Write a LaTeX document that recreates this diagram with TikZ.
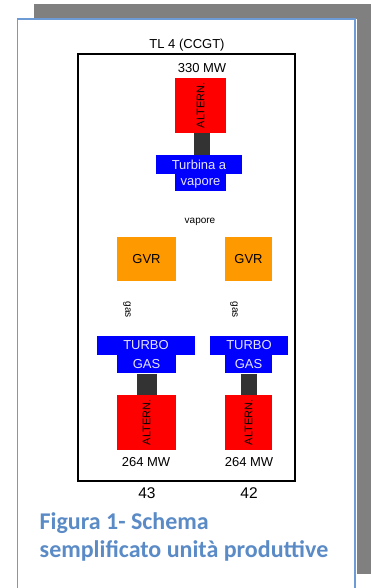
\documentclass[tikz,border=0pt]{standalone}
\usepackage{fontspec}
\usepackage{graphicx}
\setmainfont{Liberation Sans}
\newfontfamily\captionfont{Carlito}
\usetikzlibrary{positioning}
\definecolor{Frame}{HTML}{6C9BD6}
\definecolor{Shadow}{HTML}{808080}
\definecolor{Caption}{HTML}{5B8BC6}
\definecolor{TurbBlue}{HTML}{0000FF}
\definecolor{AltRed}{HTML}{FF0000}
\definecolor{GvrOrange}{HTML}{FF9900}
\definecolor{Shaft}{HTML}{333333}
\definecolor{TurbText}{HTML}{E4E4FF}

\begin{document}
\begin{tikzpicture}[x=1pt,y=-1pt,
    lbl/.style={font=\fontsize{13}{15}\selectfont,inner sep=0pt},
    small/.style={font=\fontsize{10}{12}\selectfont,inner sep=0pt},
    altern/.style={fill=AltRed,inner sep=0pt,minimum height=55pt,font=\fontsize{11}{12}\selectfont},
    gvr/.style={fill=GvrOrange,inner sep=0pt,minimum height=44pt,font=\fontsize{13}{15}\selectfont},
    turb/.style={fill=TurbBlue,text=TurbText,inner sep=0pt,font=\fontsize{13}{15}\selectfont},
    shaftline/.style={draw=Shaft,line width=16pt}
]
\useasboundingbox (0,0) rectangle (371,588);
% page with shadow
\fill[Shadow] (34,4) rectangle (371,574);
\fill[white] (17.5,19) rectangle (356.5,600);
\draw[Frame,line width=1.5pt] (17.5,19) rectangle (355,600);
% plant frame
\node[lbl] (title) at (187,45) {TL 4 (CCGT)};
\draw[line width=2pt] (78,54) rectangle (295,481);
% steam group
\node[lbl] (mwv) at (202,68) {330 MW};
\node[altern,minimum width=51pt] (altv) at (200.5,105.5) {\rotatebox{90}{ALTERN.}};
\node[turb,minimum width=86pt,minimum height=19pt] (tvtop) at (199,164.5) {Turbina a};
\node[turb,minimum width=51pt,minimum height=17pt,below=0pt of tvtop.south,xshift=1.5pt] (tvbot) {vapore};
\draw[shaftline] ([xshift=1.5pt]altv.south) -- ([xshift=1.5pt]altv.south |- tvtop.north);
\node[small] (vap) at (200,222) {vapore};
% recovery boilers
\node[gvr,minimum width=59pt] (gvra) at (146.5,259) {GVR};
\node[gvr,minimum width=47pt] (gvrb) at (248.5,259) {GVR};
\node[small,rotate=-90] (gasa) at (127,309.5) {gas};
\node[small,rotate=-90] (gasb) at (234,309.5) {gas};
% gas turbines
\node[turb,minimum width=98pt,minimum height=19pt] (tga) at (146,345.5) {TURBO};
\node[turb,minimum width=59pt,minimum height=18pt,below=0pt of tga.south,xshift=0.5pt] (tgabot) {GAS};
\node[turb,minimum width=78pt,minimum height=19pt] (tgb) at (249,345.5) {TURBO};
\node[turb,minimum width=47pt,minimum height=18pt,below=0pt of tgb.south,xshift=-0.5pt] (tgbbot) {GAS};
% generators
\node[altern,minimum width=59pt] (alta) at (146.5,422.5) {\rotatebox{90}{ALTERN.}};
\node[altern,minimum width=47pt] (altb) at (248.5,422.5) {\rotatebox{90}{ALTERN.}};
\draw[shaftline,line width=20pt] (tgabot.south) -- (alta.north);
\draw[shaftline] (tgbbot.south) -- (altb.north);
\node[lbl] (mwa) at (146,462) {264 MW};
\node[lbl] (mwb) at (249,462) {264 MW};
\node[lbl,font=\fontsize{15.5}{17}\selectfont] (numa) at (147,493) {43};
\node[lbl,font=\fontsize{15.5}{17}\selectfont] (numb) at (249,493) {42};
% caption
\node[anchor=north west,align=left,inner sep=0pt,text=Caption,
      font=\captionfont\bfseries\fontsize{24}{28}\selectfont] (cap) at (39.5,512)
      {Figura 1- Schema\\semplificato unità produttive};
\end{tikzpicture}
\end{document}
